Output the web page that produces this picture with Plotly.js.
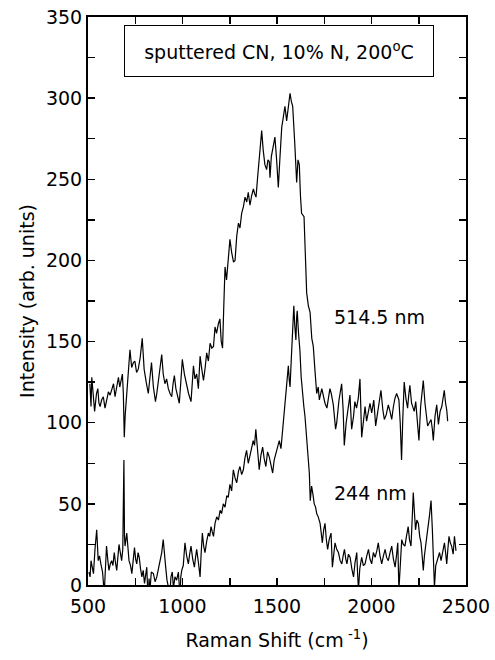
<!DOCTYPE html>
<html>
<head>
<meta charset="utf-8">
<script src="https://cdn.plot.ly/plotly-3.0.1.min.js"></script>
<style>
  html, body { margin: 0; padding: 0; background: #fff; }
  #chart { width: 495px; height: 660px; }
</style>
</head>
<body>
<div id="chart"></div>
<script>
// 514.5 nm spectrum
const shift514 = [510,516,520,528,535,545,552,558,564,572,581,590,600,608,617,626,635,643,652,661,668,675,682,687,692,697,704,712,722,731,740,748,757,766,776,787,792,797,808,819,828,836,846,857,864,871,880,890,898,907,916,925,934,943,950,957,965,975,983,991,999,1010,1022,1032,1045,1052,1058,1066,1075,1084,1093,1102,1111,1120,1128,1137,1146,1155,1164,1172,1180,1190,1198,1205,1212,1218,1225,1233,1242,1251,1260,1270,1278,1287,1296,1304,1313,1322,1331,1340,1348,1357,1366,1375,1382,1389,1398,1408,1419,1427,1436,1445,1452,1459,1463,1470,1480,1489,1498,1507,1515,1525,1533,1542,1551,1560,1569,1576,1583,1594,1604,1611,1618,1624,1630,1643,1650,1657,1666,1675,1684,1692,1701,1710,1718,1724,1737,1746,1754,1764,1772,1780,1787,1798,1810,1816,1828,1842,1850,1856,1866,1877,1886,1895,1905,1912,1921,1930,1939,1948,1957,1966,1974,1985,1992,2001,2012,2022,2033,2042,2050,2060,2068,2078,2089,2098,2107,2116,2124,2133,2145,2152,2159,2166,2173,2182,2191,2197,2203,2212,2226,2234,2242,2251,2260,2267,2274,2283,2290,2297,2306,2315,2322,2327,2336,2345,2354,2363,2372,2379,2385,2392,2398,2403];
const int514 = [124,110,128,115,107,118,121,112,110,114,116,109,115,119,117,120,124,116,121,128,122,126,130,118,91,105,116,125,145,134,137,138,131,133,140,152,140,133,125,118,128,137,122,113,118,124,133,142,130,124,127,121,118,116,124,129,121,116,112,125,139,130,123,118,113,125,135,127,130,121,141,133,126,134,143,138,149,146,147,159,155,161,164,150,146,170,196,188,200,213,205,199,200,215,223,220,229,233,239,236,242,234,240,244,241,239,252,265,280,268,259,256,262,261,251,264,270,276,262,245,262,282,288,295,286,296,303,298,295,272,248,262,259,240,229,227,205,180,172,168,152,147,132,118,122,114,121,116,112,109,115,121,118,111,96,100,114,124,108,86,100,110,117,96,104,113,109,115,127,91,103,110,101,108,112,106,114,98,106,112,120,108,102,105,111,107,102,110,115,118,114,100,77,104,125,115,109,117,123,112,107,113,100,89,110,118,126,112,104,98,100,102,96,89,104,111,99,107,110,116,120,112,108,101];

// 244 nm spectrum
const shift244 = [505,511,516,522,529,537,546,554,561,568,577,586,592,598,605,611,618,625,632,639,645,652,658,664,671,678,684,690,693,696,705,711,717,725,732,739,746,752,758,765,771,778,785,792,799,805,811,818,823,828,835,846,855,864,872,882,890,898,904,911,918,925,932,939,946,952,960,969,978,987,991,996,1004,1013,1022,1031,1038,1045,1054,1063,1069,1075,1084,1093,1099,1105,1112,1119,1128,1137,1144,1151,1157,1164,1172,1181,1190,1199,1207,1216,1225,1234,1242,1251,1260,1269,1278,1287,1296,1304,1313,1322,1330,1339,1348,1357,1365,1374,1381,1388,1397,1406,1415,1424,1432,1441,1450,1459,1468,1477,1485,1494,1503,1512,1521,1530,1536,1542,1551,1560,1565,1569,1576,1583,1589,1594,1600,1604,1607,1614,1621,1628,1636,1642,1648,1654,1660,1666,1671,1676,1683,1690,1697,1704,1710,1718,1728,1734,1740,1747,1754,1761,1768,1776,1786,1793,1800,1807,1816,1825,1834,1843,1850,1857,1864,1870,1878,1887,1896,1905,1913,1922,1926,1931,1938,1948,1957,1966,1975,1984,1992,2001,2010,2019,2028,2036,2045,2054,2063,2072,2080,2089,2098,2107,2116,2125,2132,2139,2145,2152,2160,2168,2177,2185,2194,2201,2209,2215,2221,2227,2233,2240,2248,2255,2262,2268,2274,2280,2288,2297,2306,2315,2322,2328,2333,2340,2351,2360,2368,2377,2386,2392,2398,2404,2410,2417,2424,2432,2439,2447];
const int244 = [8,5,15,10,7,22,34,15,18,13,8,-5,10,24,15,9,13,15,12,20,14,9,17,25,20,15,22,77,30,24,32,22,15,12,7,15,23,16,13,20,17,10,5,9,1,6,11,-10,4,-3,8,7,2,5,10,15,20,28,18,11,3,-1,-8,5,8,-2,5,3,8,-7,5,9,12,26,18,13,19,24,16,11,17,22,14,5,20,32,24,20,27,32,30,36,33,30,38,42,40,46,44,50,48,55,54,62,58,71,66,63,70,73,68,71,78,83,75,79,84,89,86,96,83,71,80,85,78,73,82,79,74,69,77,81,86,89,84,96,104,112,120,135,126,122,140,155,172,160,151,165,169,155,145,128,114,110,104,94,85,72,69,52,61,56,50,48,44,42,38,32,26,34,38,28,22,28,32,11,20,26,22,20,15,13,18,22,16,13,19,17,10,5,14,20,8,-3,10,17,12,13,18,22,16,13,20,17,21,26,18,13,18,22,17,15,20,24,16,11,18,26,-3,12,28,25,24,30,36,28,24,40,57,45,34,40,38,30,26,18,9,18,27,34,42,52,34,15,-1,12,17,20,15,20,26,20,13,22,30,26,24,19,30,21];

const labelBox = 'sputtered CN, 10% N, 200<sup>o</sup>C';
const labels = [
  { text: '514.5 nm', x: 2040, y: 165 },
  { text: '244 nm', x: 1995, y: 57 }
];

const font = { family: 'DejaVu Sans, Liberation Sans, Arial, sans-serif', size: 19, color: '#000' };

const traces = [
  { x: shift514, y: int514, type: 'scatter', mode: 'lines',
    line: { color: '#000', width: 1.2 }, hoverinfo: 'skip' },
  { x: shift244, y: int244, type: 'scatter', mode: 'lines',
    line: { color: '#000', width: 1.2 }, hoverinfo: 'skip' }
];

const axisBase = {
  showgrid: false, zeroline: false,
  showline: true, linecolor: '#000', linewidth: 2, mirror: 'ticks',
  ticks: 'inside', ticklen: 7, tickwidth: 1.5, tickcolor: '#000',
  tickfont: font
};

const layout = {
  width: 495, height: 660,
  margin: { l: 88, r: 29, t: 17, b: 75 },
  paper_bgcolor: '#fff', plot_bgcolor: '#fff',
  showlegend: false,
  font: font,
  xaxis: Object.assign({}, axisBase, {
    range: [500, 2500], tick0: 500, dtick: 500, ticklabelstandoff: 3,
    minor: { dtick: 250, ticks: 'inside', ticklen: 7, tickwidth: 1.5, tickcolor: '#000' },
    title: { text: 'Raman Shift (cm<sup> -1</sup>)', font: font, standoff: 18 }
  }),
  yaxis: Object.assign({}, axisBase, {
    range: [0, 350], tick0: 0, dtick: 50,
    minor: { dtick: 25, ticks: 'inside', ticklen: 7, tickwidth: 1.5, tickcolor: '#000' },
    title: { text: 'Intensity (arb. units)', font: font, standoff: 6 }
  }),
  annotations: [
    { text: labelBox, xref: 'x', yref: 'y', x: 1510, y: 329, showarrow: false,
      font: font, bordercolor: '#000', borderwidth: 1, bgcolor: '#fff',
      width: 306, height: 48 }
  ].concat(labels.map(l => ({
    text: l.text, xref: 'x', yref: 'y', x: l.x, y: l.y, showarrow: false, font: font
  })))
};

Plotly.newPlot('chart', traces, layout, { staticPlot: true, displayModeBar: false });
</script>
</body>
</html>
